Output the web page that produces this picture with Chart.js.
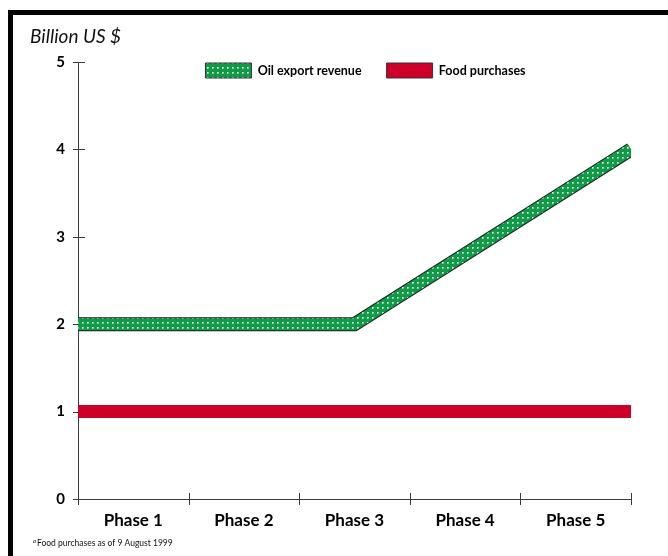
<!DOCTYPE html>
<html>
<head>
    <title>Oil export revenue and food purchases</title>
    <script src="https://cdn.jsdelivr.net/npm/chart.js"></script>
    <style>
        html, body { margin: 0; padding: 0; background: #fff; }
        #wrap { width: 668px; height: 556px; }
    </style>
</head>
<body>
    <div id="wrap"><canvas id="chart"></canvas></div>

    <script>
        // data
        const phases = ['Phase 1', 'Phase 2', 'Phase 3', 'Phase 4', 'Phase 5'];
        const yTicks = [0, 1, 2, 3, 4, 5];
        const oilX = [0, 2.5, 5];
        const oilY = [2, 2, 4];
        const foodX = [0, 5];
        const foodY = [1, 1];
        const legendNames = ['Oil export revenue', 'Food purchases'];

        const green = '#109c46';
        const red = '#cc0029';
        const axisColor = '#3a3a3a';

        // green with white dots
        function dotPattern() {
            let c = document.createElement('canvas');
            c.width = 5;
            c.height = 5;
            let g = c.getContext('2d');
            g.fillStyle = green;
            g.fillRect(0, 0, 5, 5);
            g.fillStyle = '#ffffff';
            g.fillRect(2, 2, 1.6, 1.6);
            return g.createPattern(c, 'repeat');
        }
        const dots = dotPattern();

        const toPoints = (xs, ys) => xs.map((x, i) => ({ x: x, y: ys[i] }));

        // frame, title and footnote
        const frame = {
            id: 'frame',
            beforeDraw(chart) {
                const ctx = chart.ctx;
                ctx.save();
                ctx.fillStyle = '#fff';
                ctx.fillRect(0, 0, chart.width, chart.height);
                ctx.fillStyle = '#000';
                ctx.fillRect(8, 10, chart.width - 8, 5);
                ctx.fillRect(8, 10, 5, chart.height - 10);
                ctx.restore();
            },
            afterDraw(chart) {
                const ctx = chart.ctx;
                ctx.save();
                ctx.fillStyle = '#111';
                ctx.textBaseline = 'alphabetic';
                ctx.font = 'italic 19px Lato';
                ctx.fillText('Billion US $', 30, 43);
                ctx.font = 'italic 6px Lato';
                ctx.fillText('a', 33, 543);
                ctx.font = '8.5px Lato';
                ctx.fillText('Food purchases as of 9 August 1999', 37, 546);
                ctx.restore();
            }
        };

        // tick marks that cross the axes
        const crossTicks = {
            id: 'crossTicks',
            beforeDatasetsDraw(chart) {
                const ctx = chart.ctx;
                const xs = chart.scales.x;
                const ys = chart.scales.y;
                const x0 = xs.getPixelForValue(0);
                const y0 = ys.getPixelForValue(0);
                ctx.save();
                ctx.strokeStyle = axisColor;
                ctx.lineWidth = 1;
                ctx.beginPath();
                yTicks.forEach(v => {
                    let py = Math.round(ys.getPixelForValue(v)) + 0.5;
                    ctx.moveTo(x0 - 5, py);
                    ctx.lineTo(x0 + 7, py);
                });
                for (let i = 0; i <= phases.length; i++) {
                    let px = Math.round(xs.getPixelForValue(i)) + 0.5;
                    ctx.moveTo(px, y0 - 6);
                    ctx.lineTo(px, y0 + 6);
                }
                ctx.stroke();
                ctx.restore();
            }
        };

        // the legend sits inside the top of the plot
        const legendShift = {
            id: 'legendShift',
            afterLayout(chart) {
                const l = chart.legend;
                l.top = 38;
                l.bottom = 90;
                l.height = 52;
                l.left += 50;
                l.right += 50;
            }
        };

        new Chart(document.getElementById('chart'), {
            type: 'line',
            data: {
                datasets: [
                    {
                        label: legendNames[0],
                        data: toPoints(oilX, oilY),
                        borderColor: dots,
                        backgroundColor: dots,
                        borderWidth: 12,
                        borderCapStyle: 'butt',
                        borderJoinStyle: 'miter',
                        pointRadius: 0,
                        tension: 0,
                        order: 0
                    },
                    {
                        label: 'outline',
                        data: toPoints(oilX, oilY),
                        borderColor: '#1d1d1d',
                        borderWidth: 14,
                        borderCapStyle: 'butt',
                        borderJoinStyle: 'miter',
                        pointRadius: 0,
                        tension: 0,
                        order: 1
                    },
                    {
                        label: legendNames[1],
                        data: toPoints(foodX, foodY),
                        borderColor: red,
                        backgroundColor: red,
                        borderWidth: 13,
                        borderCapStyle: 'butt',
                        pointRadius: 0,
                        tension: 0,
                        order: 2
                    }
                ]
            },
            options: {
                responsive: true,
                maintainAspectRatio: false,
                animation: false,
                layout: { padding: { top: 61, right: 37, left: 0, bottom: 0 } },
                plugins: {
                    tooltip: { enabled: false },
                    legend: {
                        position: 'top',
                        maxHeight: 1,
                        labels: {
                            boxWidth: 46,
                            boxHeight: 15,
                            padding: 25,
                            color: '#111',
                            font: { family: 'Lato', size: 12.5, weight: 'bold' },
                            generateLabels: () => [
                                { text: legendNames[0], fillStyle: dots, strokeStyle: '#333', lineWidth: 1, datasetIndex: 0 },
                                { text: legendNames[1], fillStyle: red, strokeStyle: '#333', lineWidth: 1, datasetIndex: 2 }
                            ]
                        }
                    }
                },
                scales: {
                    x: {
                        type: 'linear',
                        min: 0,
                        max: phases.length,
                        afterFit: s => { s.height = 57; },
                        afterBuildTicks: s => {
                            s.ticks = phases.map((p, i) => ({ value: i + 0.5 }));
                        },
                        grid: { display: false },
                        border: { display: true, color: axisColor, width: 1 },
                        ticks: {
                            padding: 3,
                            color: '#000',
                            maxRotation: 0,
                            font: { family: 'Lato', size: 17, weight: 'bold' },
                            callback: v => phases[Math.floor(v)]
                        }
                    },
                    y: {
                        min: 0,
                        max: 5,
                        afterFit: s => { s.width = 78; },
                        afterBuildTicks: s => {
                            s.ticks = yTicks.map(v => ({ value: v }));
                        },
                        grid: { display: false },
                        border: { display: true, color: axisColor, width: 1 },
                        ticks: {
                            padding: 5,
                            color: '#000',
                            font: { family: 'Lato', size: 15, weight: 'bold' }
                        }
                    }
                }
            },
            plugins: [frame, crossTicks, legendShift]
        });
    </script>
</body>
</html>
